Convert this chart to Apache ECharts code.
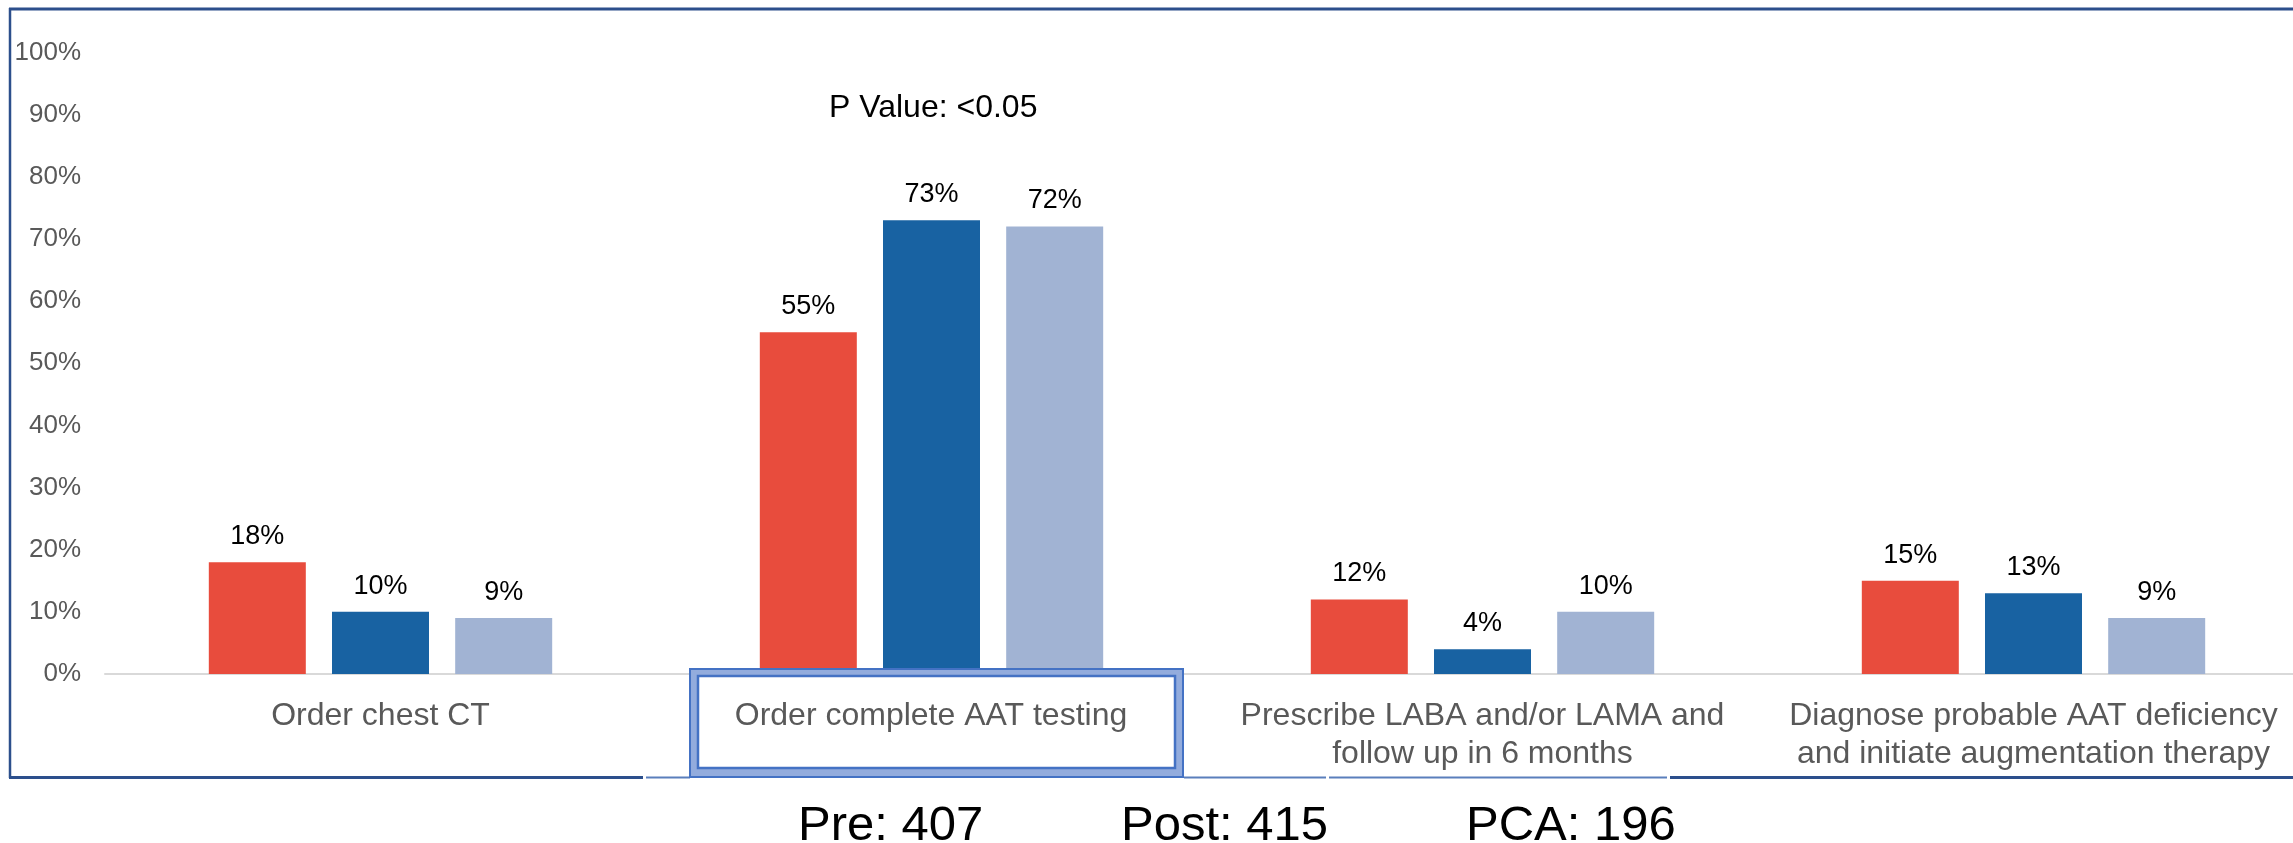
<!DOCTYPE html>
<html>
<head>
<meta charset="utf-8">
<script src="https://cdn.jsdelivr.net/npm/echarts@6/dist/echarts.min.js"></script>
<style>
  html, body { margin: 0; padding: 0; background: #ffffff; overflow: hidden; }
  /* the plot runs slightly past the right edge of the view */
  #chart { width: 2330px; height: 843px; }
</style>
</head>
<body>
<div id="chart"></div>
<script>
// Recommended next step, share of respondents per group (%)
const categories = [
  'Order chest CT',
  'Order complete AAT testing',
  'Prescribe LABA and/or LAMA and\nfollow up in 6 months',
  'Diagnose probable AAT deficiency\nand initiate augmentation therapy'
];
const preValues = [18, 55, 12, 15];
const postValues = [10, 73, 4, 13];
const pcaValues = [9, 72, 10, 9];
const sampleSizes = ['Pre: 407', 'Post: 415', 'PCA: 196'];
const pValueNote = 'P Value: <0.05';

const FONT = '"Liberation Sans", Arial, sans-serif';
const FRAME_DARK = '#2C4F8C';
const FRAME_LIGHT = '#5A7FBC';
const HILITE = '#4472C4';

const chart = echarts.init(document.getElementById('chart'), null, { renderer: 'canvas' });

const dataLabel = {
  show: true,
  position: 'top',
  distance: 12,
  formatter: '{c}%',
  color: '#000000',
  fontSize: 27,
  fontFamily: FONT
};

function barSeries(name, values, color) {
  return {
    name: name,
    type: 'bar',
    data: values,
    barWidth: 97,
    barGap: '27%',
    itemStyle: { color: color },
    label: dataLabel
  };
}

function hLine(x1, x2, y, color, w) {
  return { type: 'line', z: 120, shape: { x1: x1, y1: y, x2: x2, y2: y },
           style: { stroke: color, lineWidth: w } };
}

function sizeText(x, text) {
  return { type: 'text', z: 120, x: x, y: 826,
           style: { text: text, fill: '#000000', font: '49px ' + FONT,
                    textAlign: 'left', textVerticalAlign: 'middle' } };
}

chart.setOption({
  animation: false,
  backgroundColor: '#ffffff',
  grid: { left: 105, top: 52.5, width: 2204, bottom: 169, containLabel: false },
  xAxis: {
    type: 'category',
    data: categories,
    axisLine: { show: true, lineStyle: { color: '#D9D9D9', width: 2 } },
    axisTick: { show: false },
    axisLabel: {
      interval: 0,
      margin: 23,
      color: '#595959',
      fontSize: 32,
      lineHeight: 38,
      fontFamily: FONT
    }
  },
  yAxis: {
    type: 'value',
    min: 0,
    max: 100,
    interval: 10,
    axisLine: { show: false },
    axisTick: { show: false },
    splitLine: { show: false },
    axisLabel: {
      formatter: '{value}%',
      margin: 24,
      padding: [4, 0, 0, 0],
      color: '#595959',
      fontSize: 26,
      fontFamily: FONT
    }
  },
  series: [
    barSeries('Pre', preValues, '#E84C3D'),
    barSeries('Post', postValues, '#1862A2'),
    barSeries('PCA', pcaValues, '#A1B3D3')
  ],
  graphic: [
    // outer frame
    hLine(9, 2330, 9, FRAME_DARK, 3),
    { type: 'line', z: 120, shape: { x1: 10, y1: 8, x2: 10, y2: 778 },
      style: { stroke: FRAME_DARK, lineWidth: 2.5 } },
    hLine(9, 643, 777.5, FRAME_DARK, 3),
    hLine(646, 690, 777.5, FRAME_LIGHT, 2),
    hLine(1184, 1326, 777.5, FRAME_LIGHT, 2),
    hLine(1329, 1667, 777.5, FRAME_LIGHT, 2),
    hLine(1670, 2330, 777.5, FRAME_DARK, 3),
    // highlight box around the second category label
    { type: 'rect', z: 130,
      shape: { x: 690, y: 669, width: 493, height: 108 },
      style: { fill: '#93ACDD', stroke: HILITE, lineWidth: 2 } },
    { type: 'rect', z: 131,
      shape: { x: 698, y: 676, width: 477, height: 92 },
      style: { fill: '#ffffff', stroke: HILITE, lineWidth: 2.5 } },
    { type: 'text', z: 132, x: 931, y: 716,
      style: { text: categories[1], fill: '#595959', font: '32px ' + FONT,
               textAlign: 'center', textVerticalAlign: 'middle' } },
    // significance note
    { type: 'text', z: 120, x: 829, y: 108,
      style: { text: pValueNote, fill: '#000000', font: '32px ' + FONT,
               textAlign: 'left', textVerticalAlign: 'middle' } },
    // group sizes
    sizeText(798, sampleSizes[0]),
    sizeText(1121, sampleSizes[1]),
    sizeText(1466, sampleSizes[2])
  ]
});
</script>
</body>
</html>
